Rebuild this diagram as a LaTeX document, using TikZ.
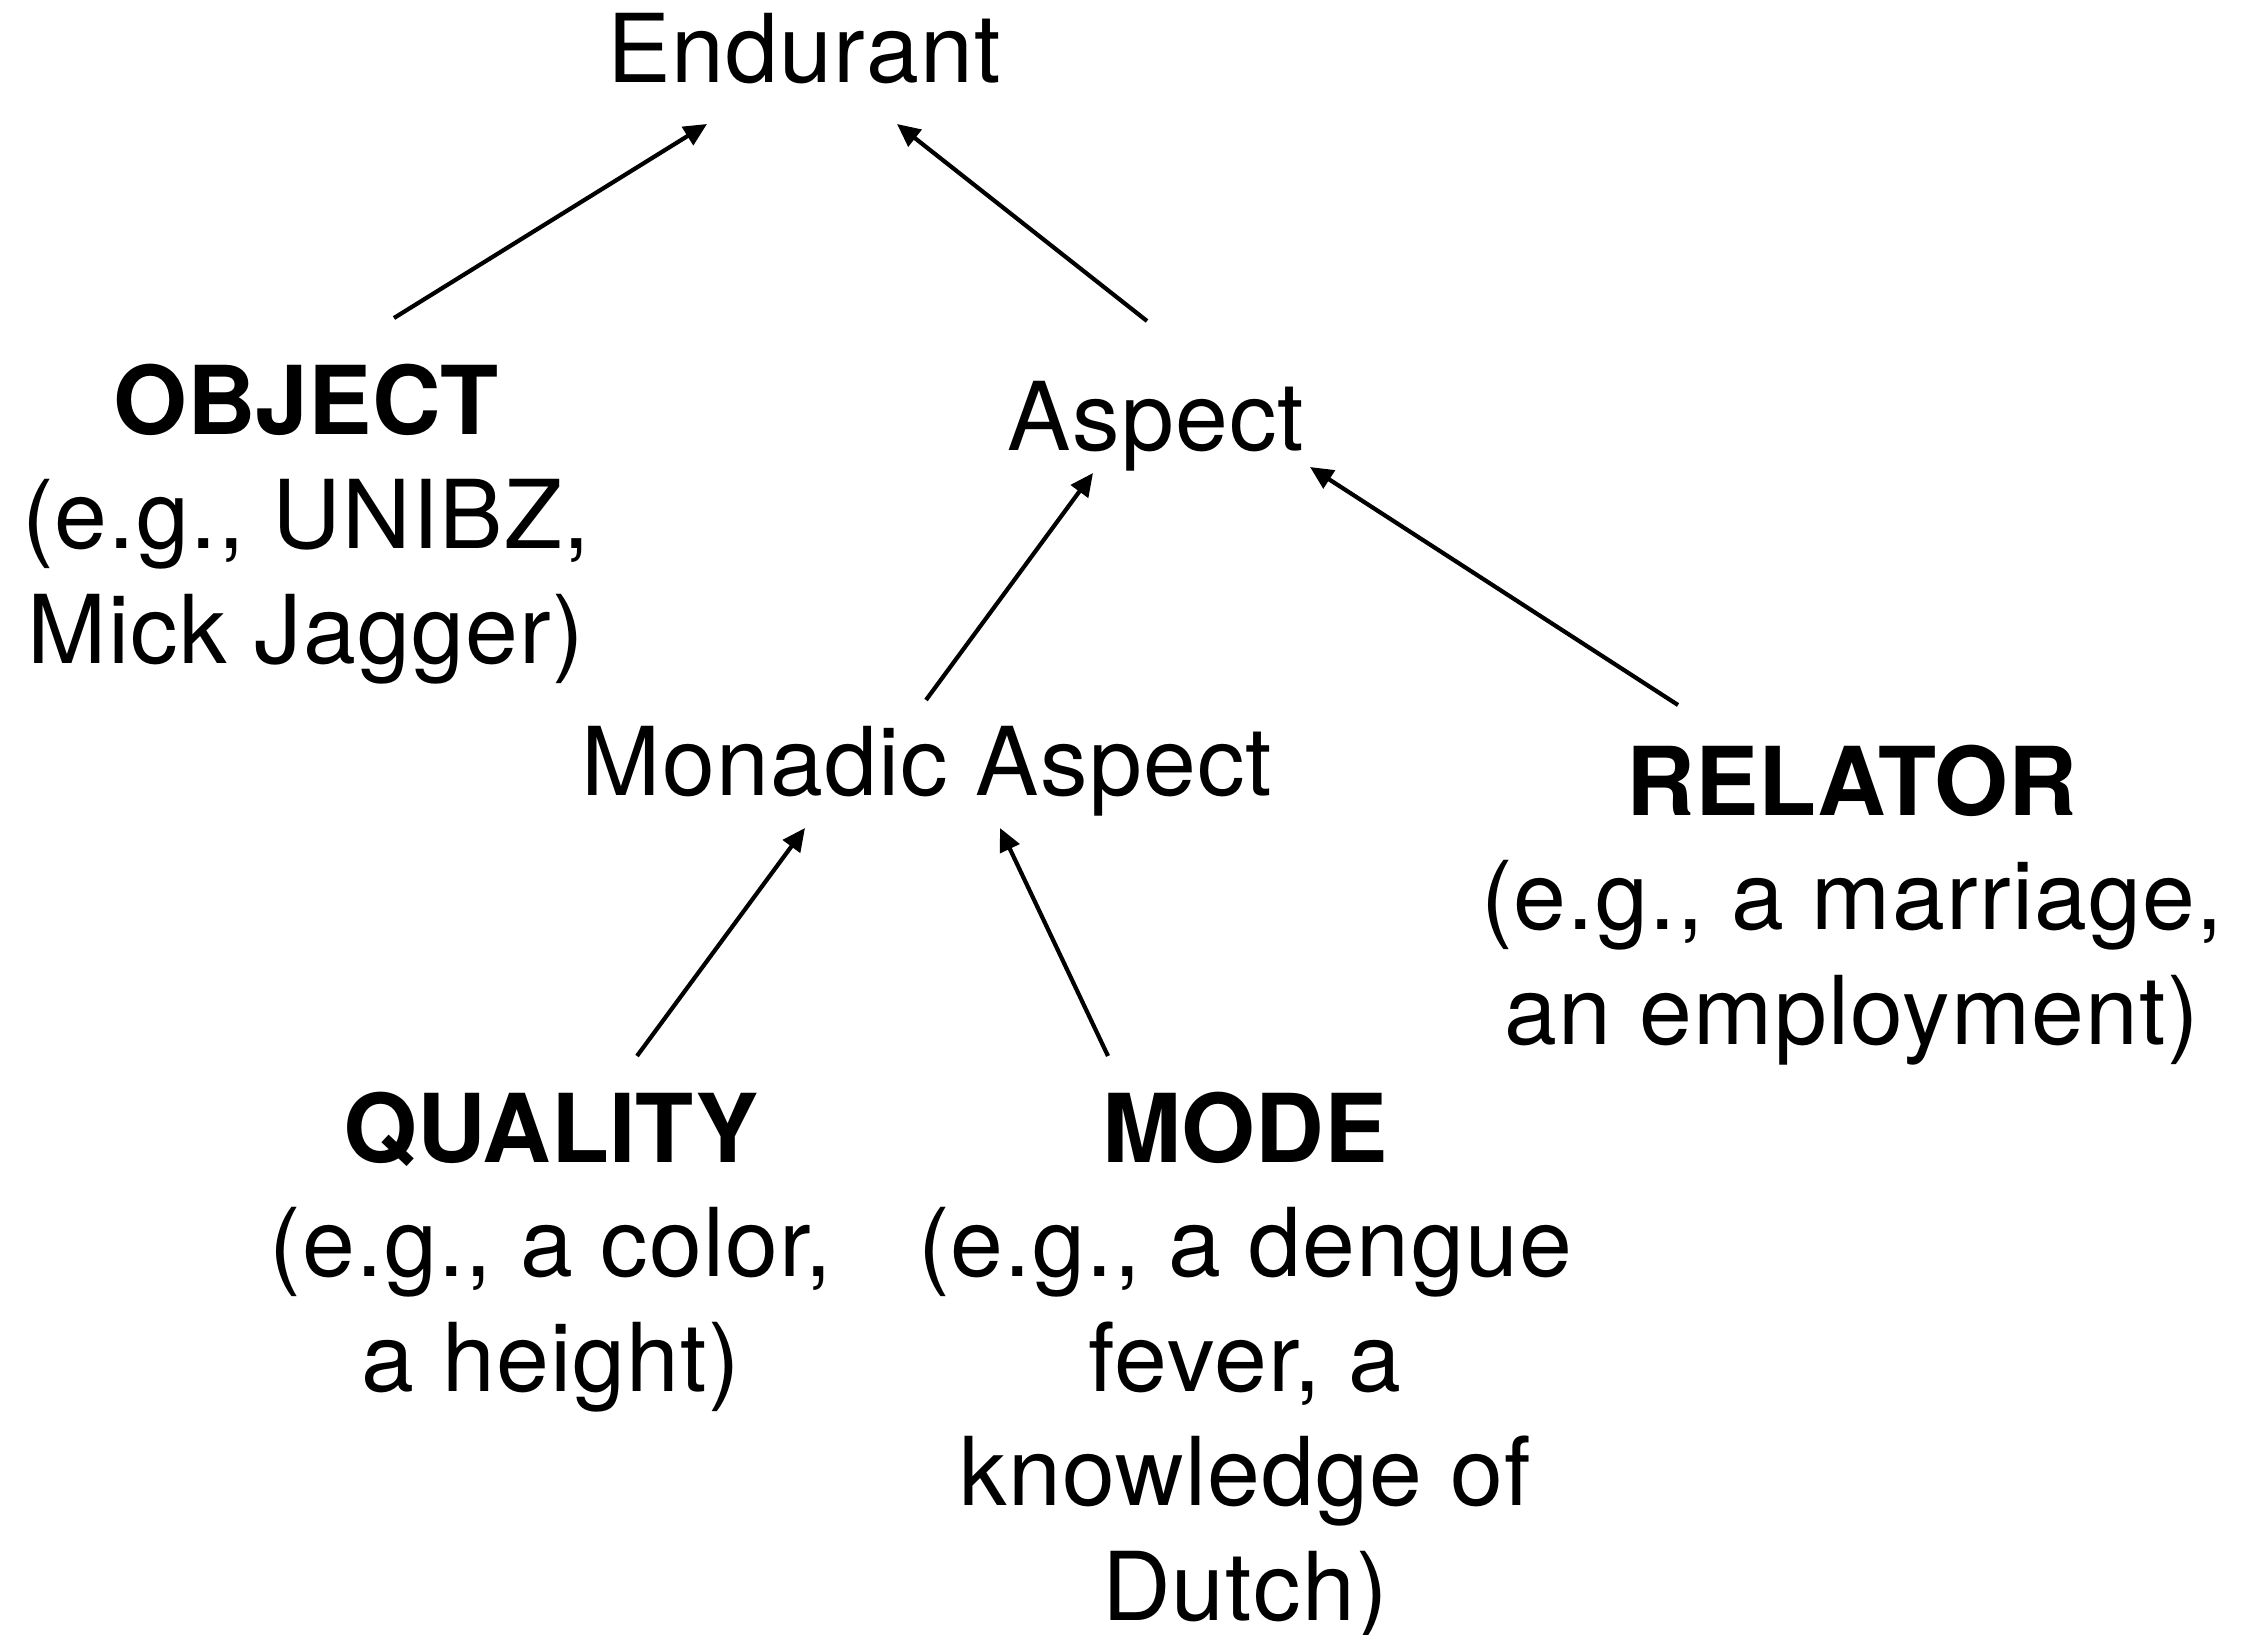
\documentclass[tikz,border=0pt]{standalone}
\usepackage{fontspec}
\setmainfont{TeX Gyre Heros}[LetterSpace=1.3, BoldFeatures={LetterSpace=0}]
\usetikzlibrary{arrows.meta,calc}
% centred lines whose baseline is that of the first line
\newcommand\cstack[1]{\begin{tabular}[t]{@{}c@{}}#1\end{tabular}}
\begin{document}
\begin{tikzpicture}[x=1pt,y=-1pt,
  lbl/.style={inner sep=0pt, anchor=base,
    font=\fontsize{95}{114.5}\selectfont},
  conn/.style={line width=4.2pt, -{Triangle[length=23pt,width=21pt]}}]
\useasboundingbox (0,0) rectangle (2249,1635);

% concepts (anchored at the baseline of their first line)
\node[lbl] (end)  at (804,83)   {Endurant};
\node[lbl] (obj)  at (306,434)  {\cstack{\textbf{OBJECT}\\(e.g., UNIBZ,\\Mick Jagger)}};
\node[lbl] (asp)  at (1156,450) {Aspect};
\node[lbl] (mon)  at (927,795)  {Monadic Aspect};
\node[lbl] (rel)  at (1852,815) {\cstack{\textbf{RELATOR}\\(e.g., a marriage,\\an employment)}};
\node[lbl] (qual) at (551,1162) {\cstack{\textbf{QUALITY}\\(e.g., a color,\\a height)}};
\node[lbl] (mode) at (1245,1162) {\cstack{\textbf{MODE}\\(e.g., a dengue\\fever, a\\knowledge of\\Dutch)}};

% specialisation arrows
\draw[conn] ($(obj.base)+(88,-116)$)   -- ($(end.base)+(-97,41)$);
\draw[conn] ($(asp.base)+(-9,-129)$)   -- ($(end.base)+(93,41)$);
\draw[conn] ($(mon.base)+(-1,-95)$)    -- ($(asp.base)+(-63,23)$);
\draw[conn] ($(rel.base)+(-174,-110)$) -- ($(asp.base)+(154,17)$);
\draw[conn] ($(qual.base)+(86,-106)$)  -- ($(mon.base)+(-122,33)$);
\draw[conn] ($(mode.base)+(-137,-106)$) -- ($(mon.base)+(73,33)$);
\end{tikzpicture}
\end{document}
